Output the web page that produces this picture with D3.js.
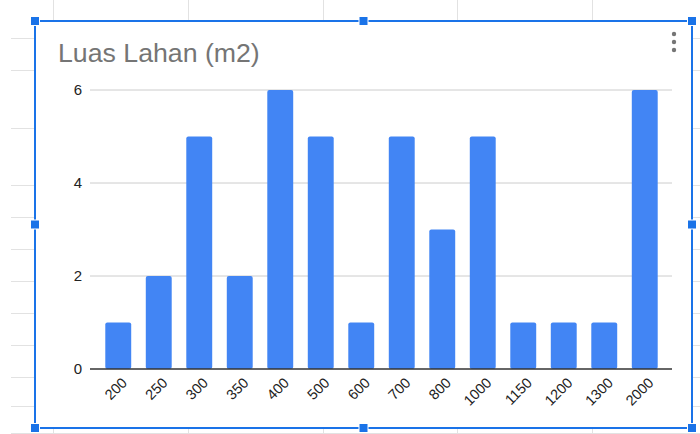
<!DOCTYPE html>
<html>
<head>
<meta charset="utf-8">
<script src="https://cdn.jsdelivr.net/npm/d3@7"></script>
<style>
  body { margin: 0; background: #fff; }
  svg { display: block; font-family: Arial, "Liberation Sans", sans-serif; }
</style>
</head>
<body>
<div id="chart"></div>
<script>
// data
const categories = ["200", "250", "300", "350", "400", "500", "600", "700", "800", "1000", "1150", "1200", "1300", "2000"]
const counts = [1, 2, 5, 2, 6, 5, 1, 5, 3, 5, 1, 1, 1, 6]
const yTicks = [0, 2, 4, 6]
const title = "Luas Lahan (m2)"

// sheet background grid (around the chart box)
const sheetCols = [53, 188, 323, 457, 592]
const sheetRows = [38, 70, 128, 185, 217, 249, 281, 313, 345, 377, 406]

const box = {left: 35, top: 21, right: 692, bottom: 428}
const plot = {left: 90, right: 672, top: 90, bottom: 369}
const blue = "#4285f4"
const selBlue = "#1a73e8"

const svg = d3.select("#chart")
  .append("svg")
  .attr("width", 700)
  .attr("height", 434)

// spreadsheet cells behind
const sheet = svg.append("g").attr("stroke", "#e2e2e2").attr("stroke-width", 1)
sheet.selectAll("line.col")
  .data(sheetCols)
  .enter()
  .append("line")
  .attr("x1", d => d + 0.5).attr("x2", d => d + 0.5)
  .attr("y1", 0).attr("y2", 434)
sheet.selectAll("line.row")
  .data(sheetRows)
  .enter()
  .append("line")
  .attr("x1", 11).attr("x2", 700)
  .attr("y1", d => d + 0.5).attr("y2", d => d + 0.5)
sheet.append("line")
  .attr("x1", 11).attr("x2", 700)
  .attr("y1", 433.5).attr("y2", 433.5)

// chart area
svg.append("rect")
  .attr("x", box.left).attr("y", box.top)
  .attr("width", box.right - box.left).attr("height", box.bottom - box.top)
  .attr("fill", "#fff")

svg.append("text")
  .attr("x", 58)
  .attr("y", 62)
  .attr("fill", "#757575")
  .style("font-size", "26.7px")
  .text(title)

// menu dots
svg.selectAll("circle.menu")
  .data([34, 42, 50])
  .enter()
  .append("circle")
  .attr("cx", 674).attr("cy", d => d).attr("r", 2.2)
  .attr("fill", "#757575")

const x = d3.scaleBand()
  .domain(categories)
  .range([98, 665])
  .paddingInner(0.36)
  .paddingOuter(0.18)

const y = d3.scaleLinear()
  .domain([0, 6])
  .range([plot.bottom, plot.top])

// gridlines
svg.selectAll("line.grid")
  .data(yTicks.filter(d => d !== 0))
  .enter()
  .append("line")
  .attr("x1", plot.left).attr("x2", plot.right)
  .attr("y1", d => y(d)).attr("y2", d => y(d))
  .attr("stroke", "#cccccc")
  .attr("stroke-width", 1)

// y labels
svg.selectAll("text.ylab")
  .data(yTicks)
  .enter()
  .append("text")
  .attr("x", 82)
  .attr("y", d => y(d))
  .attr("dy", "0.36em")
  .attr("text-anchor", "end")
  .attr("fill", "#222")
  .style("font-size", "15px")
  .text(d => d)

// bars
svg.selectAll("rect.bar")
  .data(counts)
  .enter()
  .append("rect")
  .attr("x", (d, i) => x(categories[i]))
  .attr("y", d => y(d))
  .attr("width", x.bandwidth())
  .attr("height", d => y(0) - y(d))
  .attr("rx", 2)
  .attr("fill", blue)

// baseline
svg.append("line")
  .attr("x1", plot.left).attr("x2", plot.right)
  .attr("y1", y(0)).attr("y2", y(0))
  .attr("stroke", "#333")
  .attr("stroke-width", 1.5)

// x labels
svg.selectAll("text.xlab")
  .data(categories)
  .enter()
  .append("text")
  .attr("transform", d => "translate(" + (x(d) + x.bandwidth() / 2 + 6) + "," + 380 + ")rotate(-45)")
  .attr("text-anchor", "end")
  .attr("dy", "0.36em")
  .attr("fill", "#222")
  .style("font-size", "14.5px")
  .text(d => d)

// selection frame
svg.append("rect")
  .attr("x", box.left).attr("y", box.top)
  .attr("width", box.right - box.left).attr("height", box.bottom - box.top)
  .attr("fill", "none")
  .attr("stroke", selBlue)
  .attr("stroke-width", 2)

const midX = (box.left + box.right) / 2
const midY = (box.top + box.bottom) / 2
const handles = [
  [box.left, box.top], [midX, box.top], [box.right, box.top],
  [box.left, midY], [box.right, midY],
  [box.left, box.bottom], [midX, box.bottom], [box.right, box.bottom]
]
svg.selectAll("rect.handle")
  .data(handles)
  .enter()
  .append("rect")
  .attr("x", d => d[0] - 4.5).attr("y", d => d[1] - 4.5)
  .attr("width", 9).attr("height", 9)
  .attr("fill", selBlue)
  .attr("stroke", "#fff")
  .attr("stroke-width", 1)
</script>
</body>
</html>
